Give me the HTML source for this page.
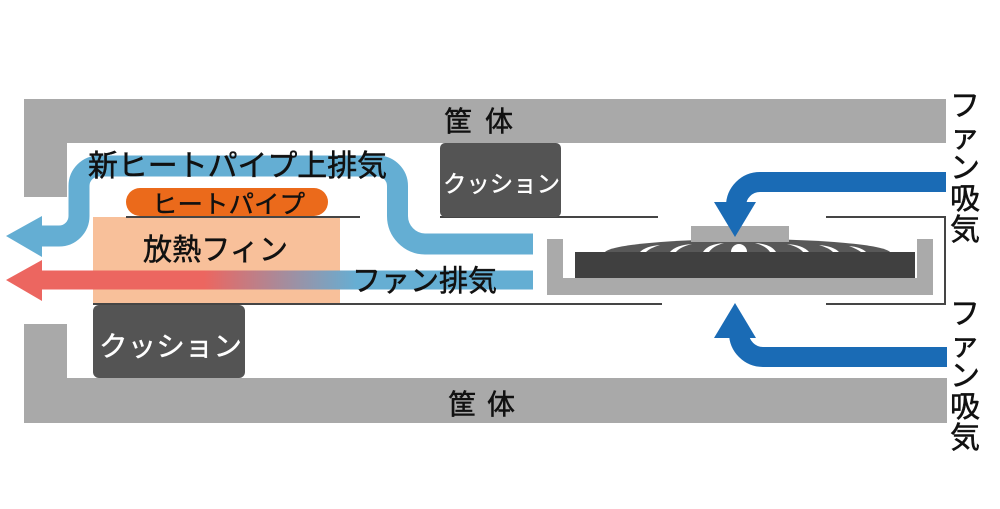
<!DOCTYPE html>
<html><head><meta charset="utf-8"><style>
html,body{margin:0;padding:0;background:#fff;}
svg{display:block;}
text{font-family:"Liberation Sans","Noto Sans CJK JP",sans-serif;}
</style></head><body>
<svg width="1000" height="509" viewBox="0 0 1000 509" xmlns="http://www.w3.org/2000/svg">
<defs>
<linearGradient id="g" gradientUnits="userSpaceOnUse" x1="42" y1="0" x2="533" y2="0">
<stop offset="0" stop-color="#ec6660"/>
<stop offset="0.33" stop-color="#ec6660"/>
<stop offset="0.64" stop-color="#66aed3"/>
<stop offset="1" stop-color="#64aed3"/>
</linearGradient>
</defs>
<!-- casing -->
<polygon points="24,99 946,99 946,143 67,143 67,197 24,197" fill="#a9a9a9"/>
<polygon points="24,324 67,324 67,378 947,378 947,423 24,423" fill="#a9a9a9"/>
<g fill="#111" stroke="#111" stroke-width="0.5">
<text x="458" y="131" font-size="28" text-anchor="middle">筐</text>
<text x="499" y="131" font-size="28" text-anchor="middle">体</text>
<text x="462" y="414" font-size="28" text-anchor="middle">筐</text>
<text x="501" y="414" font-size="28" text-anchor="middle">体</text>
</g>

<!-- fin -->
<rect x="93" y="217" width="247" height="87" fill="#f8c09a"/>
<!-- heat pipe -->
<rect x="126" y="188" width="202" height="28" rx="14" ry="14" fill="#eb6a1b"/>
<text x="152" y="213" font-size="25" textLength="153" lengthAdjust="spacingAndGlyphs" fill="#111" stroke="#111" stroke-width="0.4">ヒートパイプ</text>

<!-- lines -->
<g stroke="#454545" stroke-width="2" fill="none">
<line x1="126" y1="217" x2="360" y2="217"/>
<line x1="440" y1="217" x2="658" y2="217"/>
<polyline points="826,217 945,217 945,304 826,304"/>
<line x1="93" y1="304" x2="662" y2="304"/>
</g>

<!-- cushions -->
<rect x="440" y="143" width="121" height="74" rx="5" ry="5" fill="#545454"/>
<text x="443" y="192" font-size="23.5" textLength="117" lengthAdjust="spacingAndGlyphs" fill="#fff" stroke="#fff" stroke-width="0.4">クッション</text>
<rect x="93" y="305" width="152" height="73" rx="6" ry="6" fill="#545454"/>
<text x="99" y="356" font-size="28" textLength="143" lengthAdjust="spacingAndGlyphs" fill="#fff" stroke="#fff" stroke-width="0.4">クッション</text>

<!-- fan -->
<path d="M547,239 H563 V278 H917 V239 H933 V295 H547 Z" fill="#aaaaaa"/>
<path d="M605,252 A143,14 0 0 1 890,252 Z" fill="#585858"/>
<g fill="#fff">
<path d="M731,252 A8,8 0 0 1 747,252 Z"/>
<path d="M703,252 Q708,244 724,243 Q713,246 709,252 Z"/>
<path d="M670,252 Q676,245 692,244 Q680,247 676,252 Z"/>
<path d="M640,252 Q646,246 660,245 Q650,248 646,252 Z"/>
<path d="M776,252 Q771,244 755,243 Q766,246 770,252 Z"/>
<path d="M809,252 Q803,245 787,244 Q799,247 803,252 Z"/>
<path d="M839,252 Q833,246 819,245 Q829,248 833,252 Z"/>
<path d="M866,252 Q861,247 849,246 Q857,249 861,252 Z"/>
</g>
<rect x="575" y="252" width="340" height="26" fill="#404040"/>
<rect x="691" y="226" width="98" height="16" fill="#aaaaaa"/>

<!-- heat pipe exhaust (light blue) -->
<path d="M533,244 H425 A28,28 0 0 1 397.5,216 V186 A20,20 0 0 0 377.5,166 H99 A20,20 0 0 0 79,186 V216 A20,20 0 0 1 59,236 H38" stroke="#64aed3" stroke-width="21" fill="none"/>
<polygon points="42,216 42,257 6,236" fill="#64aed3"/>

<!-- fan exhaust gradient arrow -->
<rect x="40" y="270.5" width="493" height="19" fill="url(#g)"/>
<polygon points="42,260 42,301 6,280" fill="#ec6660"/>

<!-- intake arrows (dark blue) -->
<path d="M946,182 H760 A24,24 0 0 0 736,206" stroke="#1a6bb5" stroke-width="20" fill="none"/>
<polygon points="714,202 756,202 735,237" fill="#1a6bb5"/>
<path d="M947,357 H763 A24,24 0 0 1 739,333" stroke="#1a6bb5" stroke-width="20" fill="none"/>
<polygon points="714,338 756,338 735,303" fill="#1a6bb5"/>

<!-- labels -->
<g fill="#111" stroke="#111" stroke-width="0.5">
<text x="88" y="176" font-size="30" textLength="299" lengthAdjust="spacingAndGlyphs">新ヒートパイプ上排気</text>
<text x="143" y="260" font-size="30" textLength="145" lengthAdjust="spacingAndGlyphs">放熱フィン</text>
<text x="352" y="291" font-size="29.5" textLength="145" lengthAdjust="spacingAndGlyphs">ファン排気</text>
</g>

<g font-size="30" text-anchor="middle" fill="#111" stroke="#111" stroke-width="0.5">
<text x="965" y="116">フ</text>
<text x="965" y="147">ァ</text>
<text x="965" y="178">ン</text>
<text x="965" y="209">吸</text>
<text x="965" y="240">気</text>
<text x="965" y="324">フ</text>
<text x="965" y="355">ァ</text>
<text x="965" y="386">ン</text>
<text x="965" y="417">吸</text>
<text x="965" y="448">気</text>
</g>
</svg>
</body></html>
